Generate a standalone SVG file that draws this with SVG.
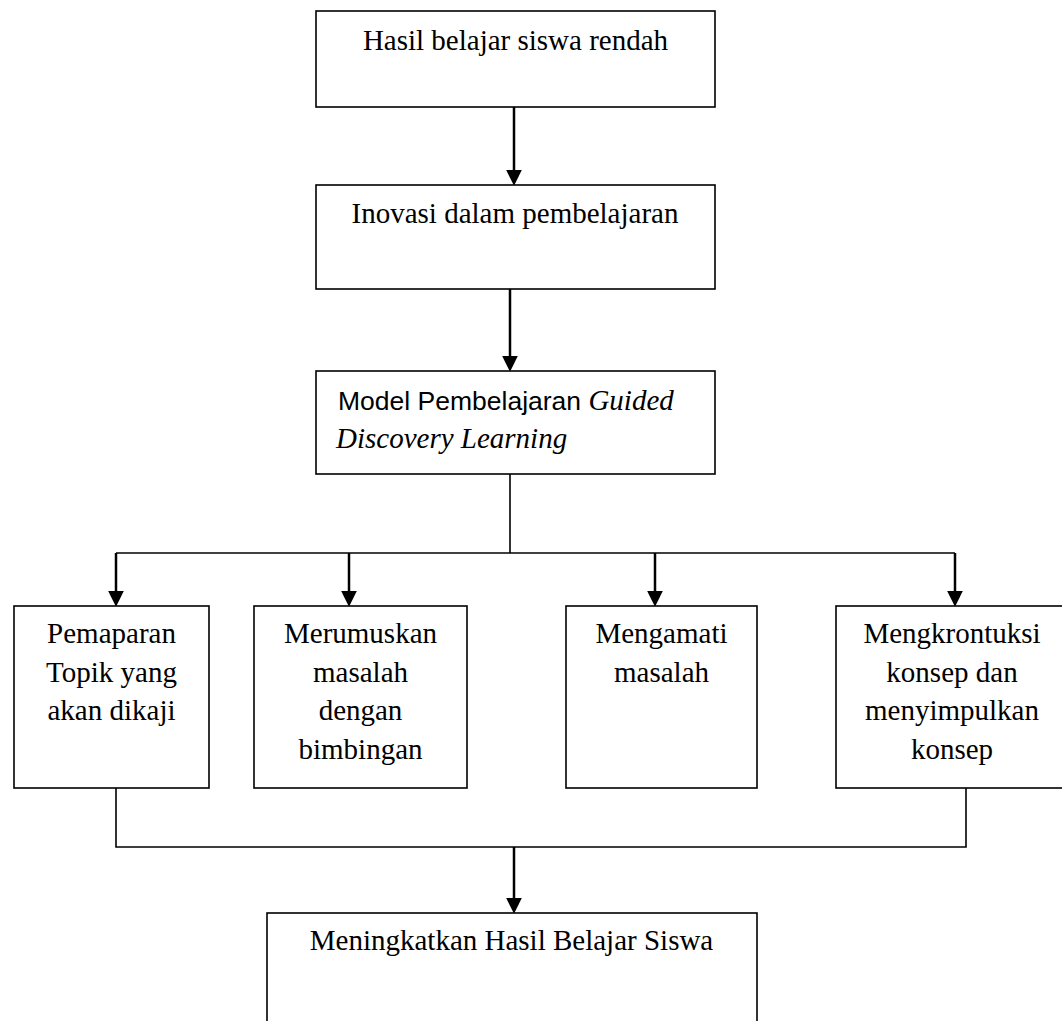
<svg xmlns="http://www.w3.org/2000/svg" width="1062" height="1021" viewBox="0 0 1062 1021">
<style>
.box{fill:#fff;stroke:#000;stroke-width:1.6}
.t{font-family:"Liberation Serif","Times New Roman",serif;font-size:29px;fill:#000}
.s{font-family:"Liberation Sans",Arial,sans-serif;font-size:26.5px;font-style:normal}
.i{font-style:italic}
.c{text-anchor:middle}
.arr{fill:none;stroke:#000;stroke-width:2.5}
.ln{fill:none;stroke:#000;stroke-width:1.6}
</style>
<defs>
<marker id="ah" markerUnits="userSpaceOnUse" markerWidth="16" markerHeight="16" viewBox="0 0 15 15" refX="5" refY="7.5" orient="auto">
<path d="M0,0 L15,7.5 L0,15 z" fill="#000"/>
</marker>
</defs>
<rect width="1062" height="1021" fill="#fff"/>
<g id="connectors">
<line class="arr" x1="514" y1="107" x2="514" y2="175" marker-end="url(#ah)"/>
<line class="arr" x1="510" y1="289" x2="510" y2="361" marker-end="url(#ah)"/>
<polyline class="ln" points="510,474 510,553"/>
<polyline class="ln" points="116,553 955,553"/>
<line class="arr" x1="116" y1="553" x2="116" y2="596" marker-end="url(#ah)"/>
<line class="arr" x1="349" y1="553" x2="349" y2="596" marker-end="url(#ah)"/>
<line class="arr" x1="655" y1="553" x2="655" y2="596" marker-end="url(#ah)"/>
<line class="arr" x1="955" y1="553" x2="955" y2="596" marker-end="url(#ah)"/>
<polyline class="ln" points="116,788 116,847 966,847 966,788"/>
<line class="arr" x1="514" y1="847" x2="514" y2="903" marker-end="url(#ah)"/>
</g>
<g id="n1">
<rect class="box" x="316" y="11" width="399" height="96"/>
<text class="t c" x="515.5" y="50">Hasil belajar siswa rendah</text>
</g>
<g id="n2">
<rect class="box" x="316" y="185" width="399" height="104"/>
<text class="t c" x="515" y="223">Inovasi dalam pembelajaran</text>
</g>
<g id="n3">
<rect class="box" x="316" y="371" width="399" height="103"/>
<text class="t" x="338" y="410"><tspan class="s">Model Pembelajaran </tspan><tspan class="i">Guided</tspan></text>
<text class="t i" x="336" y="448">Discovery Learning</text>
</g>
<g id="n4">
<rect class="box" x="14" y="606" width="195" height="182"/>
<text class="t c" x="111.5" y="643">Pemaparan</text>
<text class="t c" x="111.5" y="681.5">Topik yang</text>
<text class="t c" x="111.5" y="720">akan dikaji</text>
</g>
<g id="n5">
<rect class="box" x="254" y="606" width="213" height="182"/>
<text class="t c" x="360.5" y="643">Merumuskan</text>
<text class="t c" x="360.5" y="681.5">masalah</text>
<text class="t c" x="360.5" y="720">dengan</text>
<text class="t c" x="360.5" y="758.5">bimbingan</text>
</g>
<g id="n6">
<rect class="box" x="566" y="606" width="191" height="182"/>
<text class="t c" x="661.5" y="643">Mengamati</text>
<text class="t c" x="661.5" y="681.5">masalah</text>
</g>
<g id="n7">
<rect class="box" x="836" y="606" width="234" height="182"/>
<text class="t c" x="952" y="643">Mengkrontuksi</text>
<text class="t c" x="952" y="681.5">konsep dan</text>
<text class="t c" x="952" y="720">menyimpulkan</text>
<text class="t c" x="952" y="758.5">konsep</text>
</g>
<g id="n8">
<rect class="box" x="267" y="913" width="490" height="130"/>
<text class="t c" x="511.5" y="950">Meningkatkan Hasil Belajar Siswa</text>
</g>
</svg>
